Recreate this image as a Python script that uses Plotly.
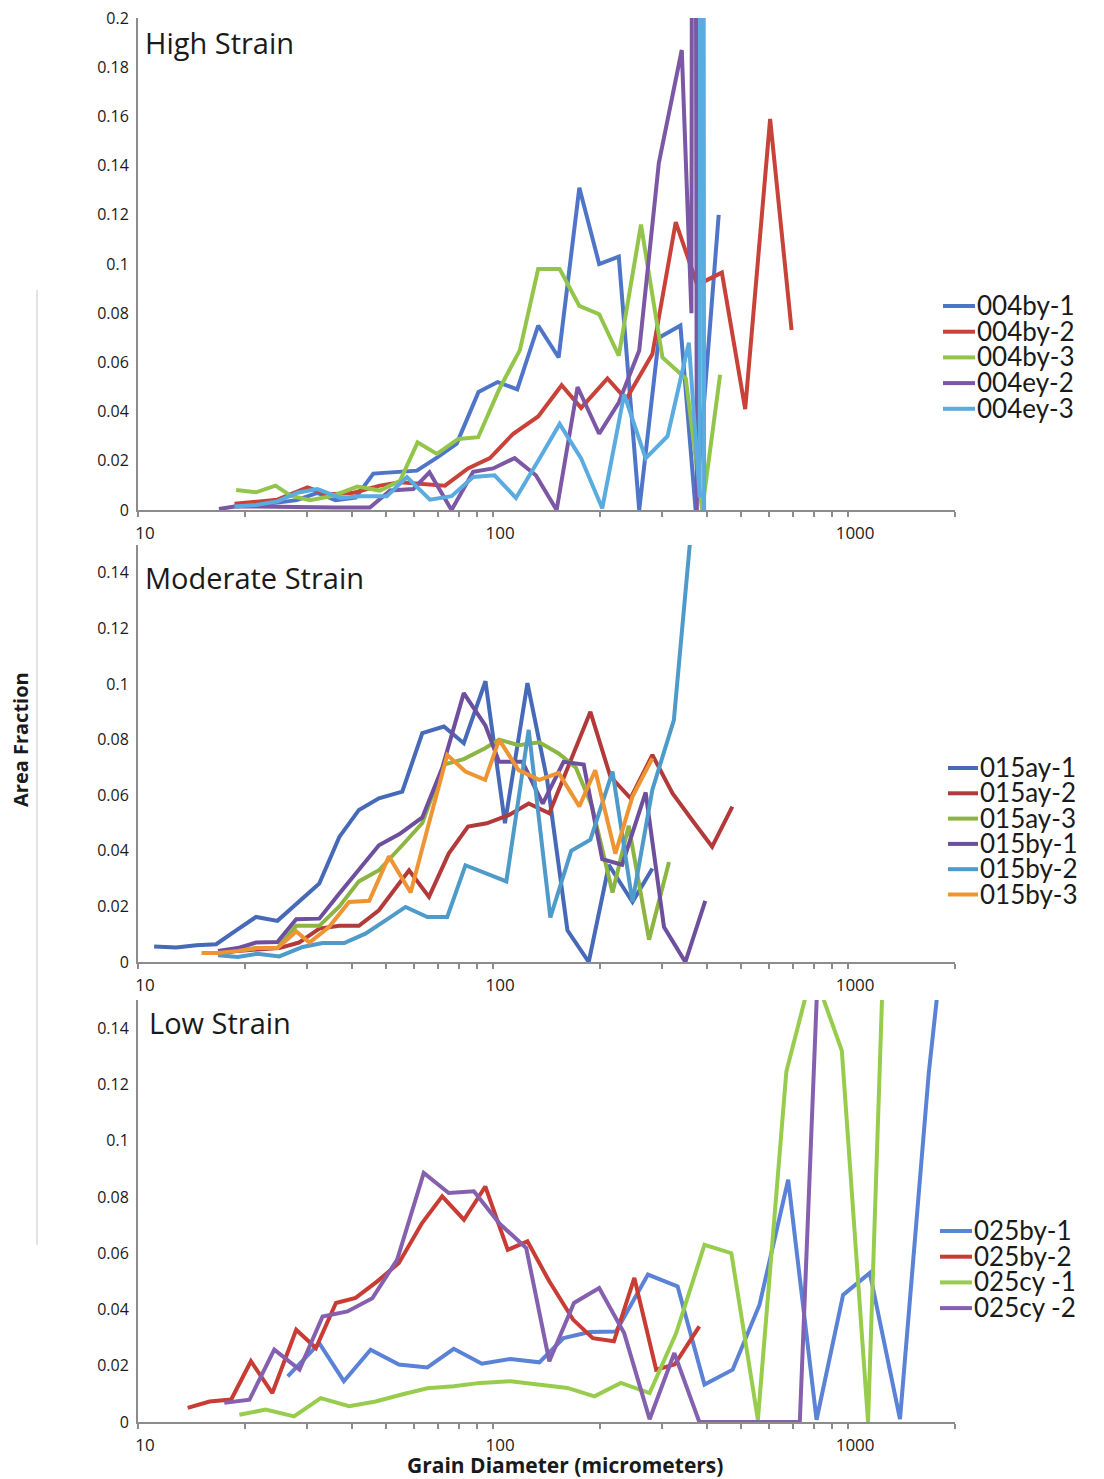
import plotly.graph_objects as go

# ---------------- DATA ----------------
# High Strain
hs_names = ["004by-1", "004by-2", "004by-3", "004ey-2", "004ey-3"]
hs_by1_x = [18.7, 21.5, 24.7, 28, 32, 36, 41, 46, 53, 61, 69, 79, 91, 103, 117, 134, 153, 175, 199, 226, 258, 293, 337, 372, 432]
hs_by1_y = [0.0014, 0.002, 0.003, 0.004, 0.007, 0.004, 0.005, 0.0148, 0.0155, 0.016, 0.021, 0.027, 0.048, 0.052, 0.049, 0.075, 0.062, 0.131, 0.100, 0.103, 0.0, 0.070, 0.075, 0.0, 0.120]
hs_by2_x = [18.7, 21.5, 24.7, 30, 34.1, 40.5, 48, 54.7, 63.6, 73.2, 85, 98, 114, 134, 156, 177, 210, 237, 281, 327, 376, 441, 513, 603, 693]
hs_by2_y = [0.0025, 0.0035, 0.0042, 0.0092, 0.0063, 0.007, 0.0099, 0.0113, 0.0106, 0.0099, 0.0169, 0.0211, 0.031, 0.038, 0.0507, 0.0415, 0.0535, 0.045, 0.0634, 0.117, 0.0915, 0.0965, 0.041, 0.159, 0.0732]
hs_by3_x = [18.9, 21.5, 24.4, 26.9, 30.5, 35.5, 41.5, 48, 54.7, 61.3, 69.5, 79.8, 90.8, 104, 119, 134, 154, 175, 199, 226, 261, 300, 349, 388, 436]
hs_by3_y = [0.0081, 0.0072, 0.0099, 0.0058, 0.004, 0.0058, 0.0095, 0.0079, 0.0119, 0.0275, 0.0228, 0.0289, 0.0296, 0.049, 0.065, 0.098, 0.098, 0.083, 0.0796, 0.0627, 0.116, 0.062, 0.0535, 0.0, 0.055]
hs_ey2_x = [16.9, 18.7, 21.5, 24.7, 28, 32, 36, 41, 45, 51.3, 59.6, 66.2, 76.4, 87.9, 100, 115, 132, 151, 173, 199, 226, 258, 293, 340, 362, 367, 375]
hs_ey2_y = [0.0004, 0.0014, 0.0014, 0.0012, 0.001, 0.001, 0.001, 0.001, 0.001, 0.0079, 0.0085, 0.0153, 0.0, 0.0155, 0.0169, 0.0211, 0.0141, 0.0, 0.05, 0.031, 0.0437, 0.0648, 0.141, 0.187, 0.08, 0.8, 0.0]
hs_ey3_x = [18.7, 21.5, 24.7, 28.1, 32, 37.2, 42.3, 50.2, 57.2, 66.4, 76.4, 87.9, 101, 116, 134, 154, 177, 203, 234, 269, 310, 356, 382, 387, 393]
hs_ey3_y = [0.0014, 0.002, 0.0035, 0.007, 0.0085, 0.0049, 0.0056, 0.0056, 0.0134, 0.0042, 0.0056, 0.0134, 0.0141, 0.0049, 0.02, 0.035, 0.021, 0.0007, 0.047, 0.021, 0.030, 0.068, 0.005, 1.2, 0.0]

# Moderate Strain
ms_names = ["015ay-1", "015ay-2", "015ay-3", "015by-1", "015by-2", "015by-3"]
ms_ay1_x = [11.1, 12.8, 14.6, 16.6, 18.9, 21.5, 24.7, 27.9, 32.4, 36.9, 41.9, 47.7, 55.5, 63.2, 72.7, 82.7, 95.2, 108, 125, 142, 162, 186, 212, 247, 281]
ms_ay1_y = [0.0056, 0.0052, 0.006, 0.0064, 0.0114, 0.0162, 0.0148, 0.021, 0.0282, 0.045, 0.0547, 0.0589, 0.0613, 0.0823, 0.0847, 0.0787, 0.101, 0.0499, 0.1003, 0.0655, 0.0114, 0.0, 0.0349, 0.0216, 0.0336]
ms_ay2_x = [16.8, 19.1, 21.7, 25, 28.4, 32.4, 36.9, 41.9, 47.7, 58, 66, 75, 85, 96, 111, 126, 144, 188, 214, 244, 281, 320, 364, 414, 472]
ms_ay2_y = [0.003, 0.004, 0.0045, 0.005, 0.007, 0.012, 0.013, 0.013, 0.0186, 0.033, 0.0234, 0.039, 0.0487, 0.0499, 0.0529, 0.057, 0.0535, 0.090, 0.0667, 0.0589, 0.0745, 0.0607, 0.051, 0.0415, 0.0559]
ms_ay3_x = [18.9, 21.5, 24.7, 27.9, 32.4, 36.9, 41.9, 47.7, 55.5, 63.2, 72.7, 82.7, 95.2, 104, 118, 135, 153, 171, 190, 217, 241, 275, 313]
ms_ay3_y = [0.004, 0.005, 0.005, 0.013, 0.013, 0.02, 0.029, 0.033, 0.042, 0.05, 0.071, 0.073, 0.077, 0.08, 0.078, 0.079, 0.075, 0.070, 0.056, 0.025, 0.049, 0.008, 0.036]
ms_by1_x = [16.8, 19.1, 21.5, 24.7, 27.9, 32.4, 36.9, 41.9, 47.7, 54.5, 63.2, 72, 82.7, 95.2, 104, 121, 138, 158, 180, 203, 231, 269, 303, 348, 396]
ms_by1_y = [0.004, 0.005, 0.007, 0.0072, 0.0154, 0.0156, 0.0246, 0.033, 0.042, 0.046, 0.052, 0.070, 0.0967, 0.085, 0.072, 0.072, 0.057, 0.072, 0.071, 0.037, 0.035, 0.061, 0.0126, 0.0, 0.022]
ms_by2_x = [16.8, 19.1, 21.7, 25, 29.1, 33.1, 38.1, 43.7, 49.8, 56.7, 65.3, 74.3, 83.6, 95, 109, 126, 145, 166, 188, 217, 247, 281, 323, 364]
ms_by2_y = [0.0024, 0.0018, 0.003, 0.002, 0.0054, 0.0068, 0.0068, 0.0102, 0.015, 0.0198, 0.0162, 0.0162, 0.0348, 0.032, 0.029, 0.0835, 0.016, 0.040, 0.044, 0.0685, 0.0216, 0.062, 0.087, 0.16]
ms_by3_x = [15.1, 16.8, 19.1, 21.7, 24.7, 27.9, 30.4, 34.5, 39.3, 44.8, 50.9, 58.6, 66, 74.3, 83.6, 95, 104, 118, 135, 153, 175, 194, 221, 247, 281]
ms_by3_y = [0.0032, 0.0032, 0.004, 0.005, 0.005, 0.011, 0.007, 0.0126, 0.0216, 0.022, 0.038, 0.025, 0.05, 0.0745, 0.0685, 0.0655, 0.080, 0.069, 0.0655, 0.068, 0.056, 0.069, 0.039, 0.0595, 0.0733]

# Low Strain
ls_names = ["025by-1", "025by-2", "025cy -1", "025cy -2"]
ls_by1_x = [26.4, 32.4, 38, 45.2, 54.3, 65.3, 77.5, 93, 112, 135, 158, 187, 222, 273, 331, 394, 473, 563, 678, 815, 968, 1151, 1400, 1687, 2020]
ls_by1_y = [0.0162, 0.028, 0.0145, 0.0257, 0.0204, 0.0194, 0.026, 0.0207, 0.0224, 0.0212, 0.0298, 0.032, 0.0322, 0.0524, 0.0482, 0.0133, 0.0186, 0.0417, 0.0861, 0.0008, 0.0452, 0.053, 0.001, 0.124, 0.215]
ls_by2_x = [13.8, 15.9, 18.3, 20.8, 23.9, 27.9, 31.7, 36.1, 41, 47.2, 54.3, 63.1, 71.9, 82.8, 95.1, 110, 125, 144, 168, 191, 219, 250, 288, 325, 381]
ls_by2_y = [0.005, 0.0073, 0.008, 0.0216, 0.0103, 0.0328, 0.0263, 0.0423, 0.0441, 0.05, 0.0565, 0.0707, 0.0802, 0.0719, 0.0837, 0.0612, 0.0642, 0.05, 0.0364, 0.0298, 0.0287, 0.0512, 0.0186, 0.0205, 0.034]
ls_cy1_x = [19.3, 22.9, 27.5, 32.7, 39.3, 46.7, 55, 65.3, 77.5, 92, 112, 135, 162, 193, 229, 276, 328, 394, 469, 557, 670, 795, 960, 1138, 1380]
ls_cy1_y = [0.0026, 0.0044, 0.002, 0.0085, 0.0056, 0.0073, 0.0097, 0.012, 0.0127, 0.0139, 0.0145, 0.0133, 0.0121, 0.0091, 0.0139, 0.0103, 0.0316, 0.063, 0.060, 0.0008, 0.1246, 0.161, 0.132, 0.0, 0.32]
ls_cy2_x = [17.5, 20.6, 24.2, 28.5, 33.1, 38.9, 45.7, 53.7, 63.8, 75, 88.3, 104, 124, 144, 169, 199, 234, 276, 324, 381, 450, 530, 620, 731, 877]
ls_cy2_y = [0.0068, 0.0079, 0.0257, 0.0186, 0.0375, 0.0393, 0.044, 0.0577, 0.0885, 0.0814, 0.082, 0.0707, 0.0618, 0.0216, 0.0423, 0.0476, 0.0316, 0.001, 0.0245, 0.0, 0.0, 0.0, 0.0, 0.0, 0.25]

panel_titles = ["High Strain", "Moderate Strain", "Low Strain"]
x_tick_vals = [10, 100, 1000]
x_minor_vals = [20, 30, 40, 50, 60, 70, 80, 90, 200, 300, 400, 500, 600, 700, 800, 900, 2000]
y_ticks_high = [0, 0.02, 0.04, 0.06, 0.08, 0.1, 0.12, 0.14, 0.16, 0.18, 0.2]
y_ticks_low = [0, 0.02, 0.04, 0.06, 0.08, 0.1, 0.12, 0.14]
x_title = "Grain Diameter (micrometers)"
y_title = "Area Fraction"

# ---------------- STYLE / LAYOUT ----------------
W, H = 1104, 1479
ML, MR, MT, MB = 138, 149, 18, 57
PW, PH = W - ML - MR, H - MT - MB


def fx(px):
    return (px - ML) / PW


def fy(py):
    return (H - MB - py) / PH


AX = "#8c8c8c"
TXT = "#1a1a1a"
FONT = "Open Sans"
LFONT = "Lato"

panels = [
    dict(series=list(zip(hs_names,
                         [hs_by1_x, hs_by2_x, hs_by3_x, hs_ey2_x, hs_ey3_x],
                         [hs_by1_y, hs_by2_y, hs_by3_y, hs_ey2_y, hs_ey3_y],
                         ["#4f75c9", "#c9423a", "#92c54a", "#7b57a5", "#5aabdf"])),
         top=18, bottom=510, yr=[0, 0.2], yt=y_ticks_high,
         title_pos=(143, 42), leg=(305, 25.7, 943, 975)),
    dict(series=list(zip(ms_names,
                         [ms_ay1_x, ms_ay2_x, ms_ay3_x, ms_by1_x, ms_by2_x, ms_by3_x],
                         [ms_ay1_y, ms_ay2_y, ms_ay3_y, ms_by1_y, ms_by2_y, ms_by3_y],
                         ["#4669b8", "#b23a3a", "#8cb542", "#6d4f9d", "#4e9ac8", "#ee9433"])),
         top=545, bottom=962, yr=[0, 0.15], yt=y_ticks_low,
         title_pos=(143, 577), leg=(767, 25.3, 948, 978)),
    dict(series=list(zip(ls_names,
                         [ls_by1_x, ls_by2_x, ls_cy1_x, ls_cy2_x],
                         [ls_by1_y, ls_by2_y, ls_cy1_y, ls_cy2_y],
                         ["#5a82d6", "#c93c34", "#98cc4c", "#8560ae"])),
         top=1000, bottom=1422, yr=[0, 0.15], yt=y_ticks_low,
         title_pos=(147, 1022), leg=(1230, 25.7, 940, 972)),
]

fig = go.Figure()
annotations = []
shapes = []

for i, p in enumerate(panels):
    sfx = "" if i == 0 else str(i + 1)
    for name, xs, ys, col in p["series"]:
        fig.add_trace(go.Scatter(x=xs, y=ys, mode="lines", name=name,
                                 line=dict(color=col, width=4),
                                 xaxis="x" + sfx, yaxis="y" + sfx,
                                 showlegend=False))
    fig.layout["xaxis" + sfx] = dict(
        type="log", range=[1, 3.30103], anchor="y" + sfx, domain=[0, 1],
        showline=True, linecolor=AX, linewidth=2, showgrid=False, zeroline=False,
        tickmode="array", tickvals=x_tick_vals, ticks="outside", ticklen=5,
        tickwidth=2, tickcolor=AX, ticklabelshift=7, ticklabelstandoff=2,
        tickfont=dict(family=FONT, size=17, color=TXT),
        minor=dict(tickmode="array", tickvals=x_minor_vals, ticks="outside",
                   ticklen=5, tickwidth=2, tickcolor=AX, showgrid=False),
    )
    fig.layout["yaxis" + sfx] = dict(
        range=p["yr"], anchor="x" + sfx, domain=[fy(p["bottom"]), fy(p["top"])],
        showline=True, linecolor=AX, linewidth=2, showgrid=False, zeroline=False,
        tickmode="array", tickvals=p["yt"], ticktext=[f"{v:g}" for v in p["yt"]],
        ticks="", ticklabelstandoff=4,
        tickfont=dict(family=FONT, size=16, color=TXT),
    )
    tx, ty = p["title_pos"]
    annotations.append(dict(text=panel_titles[i], xref="paper", yref="paper",
                            x=fx(tx), y=fy(ty), xanchor="left", yanchor="middle",
                            showarrow=False,
                            font=dict(family=FONT, size=29, color=TXT)))
    y0, step, lx0, lx1 = p["leg"]
    for k, (name, xs, ys, col) in enumerate(p["series"]):
        yy = y0 + k * step
        shapes.append(dict(type="line", xref="paper", yref="paper",
                           x0=fx(lx0), x1=fx(lx1), y0=fy(yy + 1), y1=fy(yy + 1),
                           line=dict(color=col, width=4)))
        annotations.append(dict(text=name, xref="paper", yref="paper",
                                x=fx(lx1 + 1), y=fy(yy), xanchor="left",
                                yanchor="middle", showarrow=False, borderpad=0,
                                font=dict(family=LFONT, size=26, color=TXT)))

annotations.append(dict(text="<b>" + x_title + "</b>", xref="paper", yref="paper",
                        x=fx(565), y=fy(1465), xanchor="center", yanchor="middle",
                        showarrow=False, borderpad=0,
                        font=dict(family=FONT, size=21, color=TXT)))
annotations.append(dict(text="<b>" + y_title + "</b>", xref="paper", yref="paper",
                        x=fx(20), y=fy(740), xanchor="center", yanchor="middle",
                        textangle=-90, showarrow=False,
                        font=dict(family=FONT, size=20, color=TXT)))
shapes.append(dict(type="line", xref="paper", yref="paper",
                   x0=fx(37), x1=fx(37), y0=fy(1245), y1=fy(290),
                   line=dict(color="#c8c8c8", width=1)))

fig.update_layout(width=W, height=H,
                  margin=dict(l=ML, r=MR, t=MT, b=MB, autoexpand=False),
                  paper_bgcolor="white", plot_bgcolor="white",
                  annotations=annotations, shapes=shapes, showlegend=False)

fig.write_html("out.html")
